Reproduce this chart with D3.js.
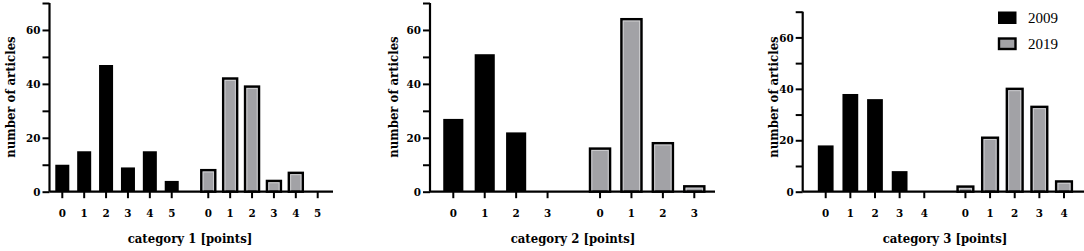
<!DOCTYPE html>
<html>
<head>
<meta charset="utf-8">
<script src="https://cdn.jsdelivr.net/npm/d3@7"></script>
<style>
  body { margin: 0; background: #fff; }
</style>
</head>
<body>
<div id="chart"></div>
<script>
// data
var years = ["2009", "2019"];
var cat1Points = ["0", "1", "2", "3", "4", "5"];
var cat1_2009 = [10, 15, 47, 9, 15, 4];
var cat1_2019 = [8, 42, 39, 4, 7, 0];
var cat2Points = ["0", "1", "2", "3"];
var cat2_2009 = [27, 51, 22, 0];
var cat2_2019 = [16, 64, 18, 2];
var cat3Points = ["0", "1", "2", "3", "4"];
var cat3_2009 = [18, 38, 36, 8, 0];
var cat3_2019 = [2, 21, 40, 33, 4];
var yTicks = [0, 20, 40, 60];
var yMinorTicks = [10, 30, 50, 70];

var svgWidth = 1084, svgHeight = 251;
var boldFont = "'DejaVu Serif Condensed', 'DejaVu Serif', serif";

var svg = d3.select("#chart").append("svg")
  .attr("width", svgWidth)
  .attr("height", svgHeight);

// layout of each small panel (pixel positions)
var panels = [
  {title: "category 1 [points]", pts: cat1Points, a: cat1_2009, b: cat1_2019,
   axisX: 49.5, top: 3, first: 62.3, last: 317.7, end: 333, titleX: 190, ylabX: 15},
  {title: "category 2 [points]", pts: cat2Points, a: cat2_2009, b: cat2_2019,
   axisX: 430, top: 3, first: 453.3, last: 694.3, end: 715, titleX: 573, ylabX: 398},
  {title: "category 3 [points]", pts: cat3Points, a: cat3_2009, b: cat3_2019,
   axisX: 802.7, top: 11.7, first: 825.7, last: 1064, end: 1084, titleX: 945, ylabX: 778}
];
var baseY = 191.7;
var gap = 0.67;

panels.forEach(function(p) {
  var n = p.pts.length;
  var x = d3.scaleLinear()
    .domain([0, 2 * n - 1 + gap])
    .range([p.first, p.last]);
  var step = x(1) - x(0);
  var bw = step * 0.64;
  var y = d3.scaleLinear().domain([0, 70]).range([baseY, p.top]);

  var rows = [];
  p.a.forEach(function(v, i) { rows.push({pos: i, v: v, yr: 0, lab: p.pts[i]}); });
  p.b.forEach(function(v, i) { rows.push({pos: n + gap + i, v: v, yr: 1, lab: p.pts[i]}); });

  var g = svg.append("g");

  // bars
  var bars = rows.filter(function(d) { return d.v > 0; });
  g.selectAll("rect.bar")
    .data(bars)
    .enter()
    .append("rect")
    .attr("class", "bar")
    .attr("x", d => x(d.pos) - bw / 2)
    .attr("y", d => y(d.v))
    .attr("width", bw)
    .attr("height", d => baseY - y(d.v))
    .attr("fill", d => d.yr == 0 ? "#000" : "#a2a2a6")
    .attr("stroke", d => d.yr == 0 ? "none" : "#000")
    .attr("stroke-width", 2.4);
  // light inner edge of the grey bars
  g.selectAll("rect.inner")
    .data(bars.filter(d => d.yr == 1 && baseY - y(d.v) > 5))
    .enter()
    .append("rect")
    .attr("class", "inner")
    .attr("x", d => x(d.pos) - bw / 2 + 1.9)
    .attr("y", d => y(d.v) + 1.9)
    .attr("width", bw - 3.8)
    .attr("height", d => baseY - y(d.v) - 1.9)
    .attr("fill", "none")
    .attr("stroke", "#d4d4d6")
    .attr("stroke-width", 0.8);

  // y axis
  var leftAxis = d3.axisLeft(y).tickValues(yTicks).tickSize(7).tickPadding(2);
  var ya = g.append("g")
    .attr("transform", `translate(${p.axisX},0)`)
    .call(leftAxis);
  var minor = d3.axisLeft(y).tickValues(yMinorTicks).tickSize(7).tickFormat("");
  var ym = g.append("g")
    .attr("transform", `translate(${p.axisX},0)`)
    .call(minor);
  ym.select(".domain").remove();
  [ya, ym].forEach(function(s) {
    s.selectAll("line").attr("stroke-width", 2);
  });
  ya.select(".domain").attr("stroke-width", 2.2)
    .attr("d", `M0,${p.top}V${baseY}`);
  ya.selectAll("text")
    .attr("font-size", 11.5).attr("font-weight", "bold")
    .attr("font-family", boldFont).attr("fill", "#000");

  // x axis
  var xa = g.append("g").attr("transform", `translate(0,${baseY})`);
  xa.append("line")
    .attr("x1", p.axisX).attr("x2", p.end)
    .attr("stroke", "#000").attr("stroke-width", 2.2);
  var tk = xa.selectAll("g.tk")
    .data(rows)
    .enter()
    .append("g")
    .attr("class", "tk")
    .attr("transform", d => `translate(${x(d.pos)},0)`);
  tk.append("line").attr("y2", 6.5).attr("stroke", "#000").attr("stroke-width", 2);
  tk.append("text")
    .attr("y", 25)
    .attr("text-anchor", "middle")
    .attr("font-family", boldFont)
    .attr("font-size", 11.5).attr("font-weight", "bold")
    .text(d => d.lab);

  // axis titles
  svg.append("text")
    .attr("x", p.titleX)
    .attr("y", 243)
    .attr("text-anchor", "middle")
    .attr("font-family", boldFont)
    .attr("font-size", 13).attr("font-weight", "bold")
    .text(p.title);
  svg.append("text")
    .attr("transform", `translate(${p.ylabX},97) rotate(-90)`)
    .attr("text-anchor", "middle")
    .attr("font-family", boldFont)
    .attr("font-size", 13).attr("font-weight", "bold")
    .text("number of articles");
});

// legend
var legend = svg.append("g").attr("transform", "translate(998,11.5)");
var li = legend.selectAll("g")
  .data(years)
  .enter()
  .append("g")
  .attr("transform", (d, i) => `translate(0,${i * 26})`);
li.append("rect")
  .attr("x", (d, i) => i ? 1 : 0).attr("y", (d, i) => i ? 1 : 0)
  .attr("width", (d, i) => i ? 16.5 : 18.5)
  .attr("height", (d, i) => i ? 10.5 : 12.5)
  .attr("fill", (d, i) => i ? "#a2a2a6" : "#000")
  .attr("stroke", (d, i) => i ? "#000" : "none")
  .attr("stroke-width", 2.4);
li.append("text")
  .attr("x", 30).attr("y", 11)
  .attr("font-family", "'Liberation Serif', serif")
  .attr("font-size", 15)
  .text(d => d);
</script>
</body>
</html>
